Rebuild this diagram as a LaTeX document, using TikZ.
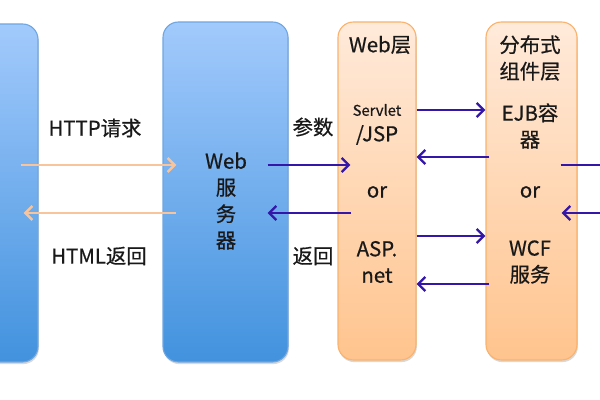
\documentclass[tikz,border=0pt]{standalone}
\usepackage{fontspec}
\setmainfont{Noto Sans CJK SC}[FakeBold=0.6]
\usetikzlibrary{arrows.meta,shadows,fit,calc}
\definecolor{bxtop}{RGB}{162,202,252}
\definecolor{bxbot}{RGB}{66,146,222}
\definecolor{bxline}{RGB}{112,166,226}
\definecolor{lytop}{RGB}{255,234,218}
\definecolor{lybot}{RGB}{255,196,142}
\definecolor{lyline}{RGB}{250,178,108}
\definecolor{arrorange}{RGB}{248,196,156}
\definecolor{arrblue}{RGB}{52,22,168}
\tikzset{
  tbox/.style={draw=bxline, thick, rounded corners=11pt, top color=bxtop, bottom color=bxbot, inner sep=0pt,
    drop shadow={shadow xshift=0.6pt, shadow yshift=-1.5pt, opacity=0.3, fill=black!50}},
  tlay/.style={draw=lyline, thick, rounded corners=11pt, top color=lytop, bottom color=lybot, inner sep=0pt,
    drop shadow={shadow xshift=0.6pt, shadow yshift=-1.5pt, opacity=0.3, fill=black!50}},
  ttxt/.style={font=\fontsize{14.5}{18.8}\selectfont, align=center, inner sep=1pt, text=black!90},
  oarr/.style={draw=arrorange, line width=1.8pt, -{Straight Barb[length=5pt,width=10pt]}},
  barr/.style={draw=arrblue, line width=1.7pt, -{Straight Barb[length=5pt,width=10pt]}}
}
\begin{document}
\begin{tikzpicture}[x=0.025cm, y=-0.025cm]
    \useasboundingbox (0,0) rectangle (600,400);
    \clip (0,0) rectangle (600,400);
    % boxes
    \node[tbox, fit={(-120,24) (38,362)}] (client) {};
    \node[tbox, fit={(163,22) (288,362)}] (websrv) {};
    \node[tlay, fit={(338,22) (416,360)}] (weblay) {};
    \node[tlay, fit={(486,22) (577,360)}] (distlay) {};
    % arrow levels
    \coordinate (ya) at (0,165);
    \coordinate (yb) at (0,213);
    \coordinate (yc) at (0,110);
    \coordinate (yd) at (0,157);
    \coordinate (ye) at (0,236);
    \coordinate (yf) at (0,284);
    \coordinate (outa) at (600,165);
    \coordinate (outb) at (600,213);
    % texts
    \node[ttxt] (httpreq) at (95,128) {HTTP请求};
    \node[ttxt] (htmlret) at (99,256) {HTML返回};
    \node[ttxt] (wsname) at (226,201) {Web\\服\\务\\器};
    \node[ttxt] (param) at (313,127) {参数};
    \node[ttxt] (ret) at (313,256) {返回};
    \node[ttxt] (wltitle) at (380,45) {Web层};
    \node[ttxt, font=\fontsize{10.5}{12}\selectfont] (servlet) at (377,110) {Servlet};
    \node[ttxt] (jsp) at (377,135) {/JSP};
    \node[ttxt] (wlor) at (377,192) {or};
    \node[ttxt] (asp) at (377,262) {ASP.\\net};
    \node[ttxt] (dltitle) at (530,58) {分布式\\组件层};
    \node[ttxt] (ejb) at (530,126) {EJB容\\器};
    \node[ttxt] (dlor) at (530,192) {or};
    \node[ttxt] (wcf) at (530,262) {WCF\\服务};
    % client <-> web server
    \draw[oarr] ($(client.east|-ya)+(-18,0)$) -- ($(websrv.west|-ya)+(14,0)$);
    \draw[oarr] ($(websrv.west|-yb)+(14,0)$) -- ($(client.east|-yb)+(-15,0)$);
    % web server <-> web layer
    \draw[barr] ($(websrv.east|-ya)+(-21,0)$) -- ($(weblay.west|-ya)+(13,0)$);
    \draw[barr] ($(weblay.west|-yb)+(14,0)$) -- ($(websrv.east|-yb)+(-21,0)$);
    % web layer <-> component layer
    \draw[barr] (weblay.east|-yc) -- (distlay.west|-yc);
    \draw[barr] ($(distlay.west|-yd)+(4,0)$) -- (weblay.east|-yd);
    \draw[barr] (weblay.east|-ye) -- (distlay.west|-ye);
    \draw[barr] ($(distlay.west|-yf)+(4,0)$) -- (weblay.east|-yf);
    % component layer -> right
    \draw[barr, -] ($(distlay.east|-ya)+(-17,0)$) -- (outa);
    \draw[barr] (outb) -- ($(distlay.east|-yb)+(-16,0)$);
\end{tikzpicture}
\end{document}
